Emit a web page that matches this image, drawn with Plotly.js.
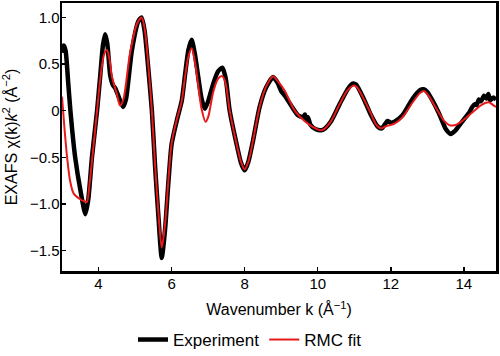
<!DOCTYPE html>
<html>
<head>
<meta charset="utf-8">
<script src="https://cdn.plot.ly/plotly-3.0.1.min.js"></script>
<style>html,body{margin:0;padding:0;background:#fff;}#chart{width:500px;height:356px;}</style>
</head>
<body>
<div id="chart"></div>
<script>
var kExp = [3.0,3.05,3.1,3.17,3.23,3.36,3.52,3.64,3.72,3.82,3.96,4.05,4.12,4.18,4.24,4.32,4.4,4.46,4.55,4.67,4.75,4.91,5.09,5.18,5.26,5.36,5.46,5.55,5.64,5.73,5.82,5.91,6.0,6.14,6.28,6.37,6.46,6.55,6.64,6.73,6.82,6.91,7.0,7.14,7.27,7.39,7.48,7.59,7.78,7.9,8.0,8.1,8.23,8.41,8.59,8.78,8.9,9.0,9.1,9.28,9.46,9.6,9.65,9.69,9.73,9.8,9.95,10.1,10.2,10.37,10.6,10.82,10.95,11.05,11.28,11.46,11.64,11.75,11.85,11.91,12.0,12.1,12.32,12.6,12.8,12.9,13.0,13.14,13.32,13.51,13.64,13.75,13.87,14.05,14.15,14.23,14.3,14.35,14.41,14.47,14.55,14.62,14.67,14.72,14.8,14.88];
var experiment = [0.62,0.70,0.64,0.30,0.0,-0.5,-0.89,-1.11,-0.95,-0.5,0.0,0.39,0.7,0.82,0.72,0.38,0.27,0.24,0.15,0.04,0.12,0.64,0.96,1.0,0.86,0.46,0.0,-0.61,-1.14,-1.58,-1.28,-0.78,-0.36,-0.11,0.11,0.39,0.65,0.76,0.6,0.36,0.13,0.02,0.1,0.29,0.42,0.46,0.35,0.0,-0.36,-0.56,-0.64,-0.55,-0.32,0.04,0.25,0.36,0.3,0.21,0.16,0.05,-0.05,-0.07,-0.04,-0.1,-0.07,-0.15,-0.2,-0.21,-0.19,-0.11,0.07,0.23,0.29,0.28,0.11,-0.05,-0.17,-0.19,-0.14,-0.11,-0.13,-0.12,-0.05,0.13,0.22,0.23,0.2,0.11,-0.03,-0.2,-0.25,-0.22,-0.16,-0.07,-0.02,0.04,0.07,0.06,0.12,0.1,0.16,0.13,0.18,0.11,0.14,0.12];
var kFit = [3.0,3.07,3.14,3.22,3.32,3.5,3.6,3.68,3.75,3.82,3.96,4.05,4.15,4.23,4.3,4.37,4.5,4.59,4.68,4.86,5.05,5.18,5.27,5.37,5.46,5.55,5.64,5.73,5.82,5.91,6.0,6.14,6.28,6.37,6.46,6.55,6.64,6.73,6.82,6.93,7.0,7.14,7.27,7.39,7.48,7.59,7.78,7.9,8.0,8.1,8.23,8.41,8.59,8.78,8.9,9.09,9.37,9.64,9.85,10.1,10.2,10.37,10.6,10.82,11.0,11.1,11.28,11.46,11.6,11.73,11.85,12.1,12.32,12.6,12.8,12.91,13.05,13.23,13.46,13.6,13.69,13.8,13.96,14.23,14.46,14.6,14.69,14.8,14.88];
var rmcFit = [0.15,-0.2,-0.5,-0.75,-0.89,-0.95,-0.97,-0.98,-0.8,-0.54,0.0,0.35,0.6,0.65,0.55,0.36,0.18,0.055,0.12,0.61,0.93,1.0,0.86,0.45,0.0,-0.6,-1.1,-1.47,-1.22,-0.76,-0.35,-0.1,0.11,0.37,0.58,0.67,0.52,0.27,0.02,-0.12,-0.07,0.2,0.34,0.37,0.29,0.0,-0.36,-0.55,-0.63,-0.55,-0.32,0.04,0.26,0.37,0.32,0.22,0.0,-0.11,-0.17,-0.21,-0.19,-0.11,0.07,0.22,0.27,0.24,0.11,-0.035,-0.15,-0.19,-0.17,-0.14,-0.07,0.09,0.19,0.21,0.15,0.035,-0.11,-0.155,-0.16,-0.15,-0.11,-0.02,0.055,0.085,0.09,0.06,0.04];
var xTickVals = [4,6,8,10,12,14];
var yTickVals = [-1.5,-1.0,-0.5,0,0.5,1.0];
var yTickText = ['\u22121.5','\u22121.0','\u22120.5','0','0.5','1.0'];

var traces = [
  {x:kExp, y:experiment, mode:'lines', name:'Experiment', line:{color:'#000000', width:4.5, shape:'spline', smoothing:0.6}},
  {x:kFit, y:rmcFit, mode:'lines', name:'RMC fit', line:{color:'#e8191b', width:2, shape:'spline', smoothing:0.8}}
];
var axisFont = {family:'Liberation Sans, Arial, sans-serif', size:15, color:'#000'};
var layout = {
  width:500, height:356,
  margin:{l:62, r:4, t:3, b:85},
  paper_bgcolor:'#fff', plot_bgcolor:'#fff',
  font:{family:'Liberation Sans, Arial, sans-serif', color:'#000'},
  showlegend:true,
  legend:{orientation:'h', xref:'container', yref:'container', x:0.5, xanchor:'center', y:0.045, yanchor:'middle', font:{size:17, color:'#000'}, itemwidth:30, tracegroupgap:0},
  xaxis:{range:[3,14.88], tickvals:xTickVals, ticks:'inside', ticklen:4, tickwidth:1.5, tickcolor:'#000', showline:true, linecolor:'#000', linewidth:2.5, mirror:true, showgrid:false, zeroline:false, tickfont:axisFont, ticklabelstandoff:-3,
    title:{text:'Wavenumber k (Å<sup>\u22121</sup>)', font:{size:16, color:'#000'}, standoff:14}},
  yaxis:{range:[-1.72,1.155], tickvals:yTickVals, ticktext:yTickText, ticks:'inside', ticklen:4, tickwidth:1.5, tickcolor:'#000', showline:true, linecolor:'#000', linewidth:2.5, mirror:true, showgrid:false, zeroline:false, tickfont:axisFont, ticklabelstandoff:-3,
    title:{text:'EXAFS \u03c7(k)<i>k</i><sup>2</sup> (Å<sup>\u22122</sup>)', font:{size:16, color:'#000'}, standoff:12}}
};
Plotly.newPlot('chart', traces, layout, {displayModeBar:false, staticPlot:true});
</script>
</body>
</html>
